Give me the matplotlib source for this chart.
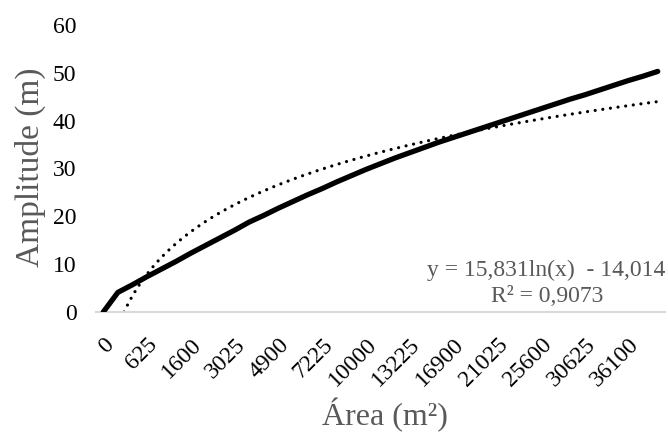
import numpy as np
import matplotlib
matplotlib.use("Agg")
import matplotlib.pyplot as plt

# ━━━━━━━━━━━━━━━━━━━━━━━━━━━━━━━━━━━━━━━━━━━━━━━━━━━━━━━━━━
# Data
# ━━━━━━━━━━━━━━━━━━━━━━━━━━━━━━━━━━━━━━━━━━━━━━━━━━━━━━━━━━
areas = [0, 225, 400, 625, 900, 1225, 1600, 2025, 2500, 3025, 3600, 4225,
         4900, 5625, 6400, 7225, 8100, 9025, 10000, 11025, 12100, 13225,
         14400, 15625, 16900, 18225, 19600, 21025, 22500, 24025, 25600,
         27225, 28900, 30625, 32400, 34225, 36100, 38025, 40000]
amplitude = [0, 4.1, 5.7, 7.4, 9.0, 10.6, 12.3, 13.9, 15.5, 17.1, 18.8,
             20.2, 21.7, 23.1, 24.5, 25.8, 27.2, 28.5, 29.8, 31.0, 32.2,
             33.3, 34.4, 35.5, 36.5, 37.5, 38.5, 39.5, 40.5, 41.5, 42.5,
             43.5, 44.5, 45.4, 46.4, 47.4, 48.4, 49.3, 50.3]
yticks = [0, 10, 20, 30, 40, 50, 60]

# trendline shown on the chart: y = 15,831 ln(x) - 14,014
trend_a = 15.831
trend_b = -14.014
eq_text = "y = 15,831ln(x)  - 14,014"
r2_text = "R² = 0,9073"

gray = "#595959"
plt.rcParams["font.family"] = ["Liberation Serif", "DejaVu Serif"]

W, H = 668, 442
fig = plt.figure(figsize=(W / 100, H / 100), dpi=100)
ax = fig.add_axes([96 / W, 1 - 312 / H, 569 / W, 287 / H])

idx = np.arange(1, len(areas) + 1)
ax.plot(idx, amplitude, color="black", lw=3.8,
        solid_capstyle="round", solid_joinstyle="round", zorder=3)

xs = np.linspace(np.exp(-trend_b / trend_a), idx[-1], 300)
ax.plot(xs, trend_a * np.log(xs) + trend_b, color="black", lw=2.3,
        linestyle=(0, (0.01, 2.4)), dash_capstyle="round", zorder=2)

ax.set_xlim(0.5, len(areas) + 0.5)
ax.set_ylim(0, 60)
ax.set_yticks(yticks)
ax.set_xticks(idx[::3])
ax.set_xticklabels([str(a) for a in areas[::3]], rotation=45,
                   ha="right", va="top", rotation_mode="anchor")

for s in ["top", "right", "left"]:
    ax.spines[s].set_visible(False)
ax.spines["bottom"].set_color("#d9d9d9")
ax.spines["bottom"].set_linewidth(1.5)
ax.tick_params(axis="both", length=0, labelsize=17, colors="black")
ax.tick_params(axis="y", pad=14)
ax.tick_params(axis="x", pad=16)

ax.text(1.0, 8.8, eq_text, transform=ax.get_yaxis_transform(),
        ha="right", va="center", fontsize=17, color=gray)
ax.text(547 / W, 1 - 296 / H, r2_text, transform=fig.transFigure,
        ha="center", va="center", fontsize=17, color=gray)

fig.text(30 / W, 1 - 167 / H, "Amplitude (m)", rotation=90,
         ha="center", va="center", fontsize=24, color=gray)
fig.text(385 / W, 1 - 415 / H, "Área (m²)",
         ha="center", va="center", fontsize=23, color=gray)

fig.savefig("out.png", dpi=100)
